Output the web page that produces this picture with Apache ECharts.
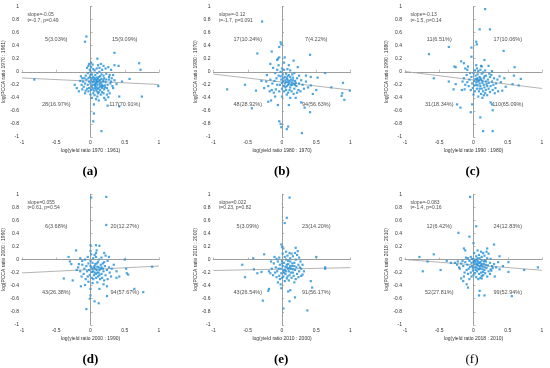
<!DOCTYPE html>
<html><head><meta charset="utf-8">
<script src="https://cdn.jsdelivr.net/npm/echarts@6/dist/echarts.min.js"></script>
<style>html,body{margin:0;padding:0;background:#fff}#c{width:550px;height:368px}</style>
</head><body><div id="c"></div>
<script>
// ---------- data ----------
const xTicks = [-1, -0.5, 0, 0.5, 1];
const yTicks = [-1, -0.8, -0.6, -0.4, -0.2, 0, 0.2, 0.4, 0.6, 0.8, 1];
const panelLetters = ['(a)', '(b)', '(c)', '(d)', '(e)', '(f)'];
const xNames = ['log(yield ratio 1970 : 1961)', 'log(yield ratio 1980 : 1970)', 'log(yield ratio 1990 : 1980)',
                'log(yield ratio 2000 : 1990)', 'log(yield ratio 2010 : 2000)', 'log(yield ratio 2018 : 2010)'];
const yNames = ['log(PCCA ratio 1970 : 1961)', 'log(PCCA ratio 1980 : 1970)', 'log(PCCA ratio 1990 : 1980)',
                'log(PCCA ratio 2000 : 1990)', 'log(PCCA ratio 2010 : 2000)', 'log(PCCA ratio 2018 : 2010)'];
const slopeText = ['slope=-0.05', 'slope=-0.12', 'slope=-0.13', 'slope=0.055', 'slope=0.022', 'slope=-0.083'];
const statText = ['t=-0.7, p=0.49', 't=-1.7, p=0.091', 't=-1.5, p=0.14', 't=0.61, p=0.54', 't=0.23, p=0.82', 't=-1.4, p=0.16'];
// quadrant counts: [upper-left, upper-right, lower-left, lower-right]
const quadText = [
  ['5(3.03%)', '15(9.09%)', '28(16.97%)', '117(70.91%)'],
  ['17(10.24%)', '7(4.22%)', '48(28.92%)', '94(56.63%)'],
  ['11(6.51%)', '17(10.06%)', '31(18.34%)', '110(65.09%)'],
  ['6(3.68%)', '20(12.27%)', '43(26.38%)', '94(57.67%)'],
  ['5(3.09%)', '23(14.20%)', '43(26.54%)', '91(56.17%)'],
  ['12(6.42%)', '24(12.83%)', '52(27.81%)', '99(52.94%)']
];
// fitted line values at x=-1 and x=1
const fitLeft  = [-0.095, -0.036, 0.004, -0.205, -0.168, 0.0];
const fitRight = [-0.195, -0.280, -0.256, -0.100, -0.124, -0.164];

const ptsA = [[-0.82,-0.12],[-0.06,0.54],[-0.08,0.46],[0.35,0.29],[0.1,0.2],[0.71,0.13],[0.73,0.03],[0.99,-0.22],[0.75,-0.38],[0.42,-0.38],[0.42,-0.53],[0.16,-0.91],[0.04,-0.76],[0.05,-0.64],[0.05,-0.5],[0.25,-0.52],[0.57,-0.11],[0.41,0.09],[0.35,0.1],[-0.23,-0.2],[-0.17,-0.3],[0.19,0.09],[0.26,0.07],[-0.03,0.09],[0.01,0.14],[0.03,0.11],[0.3,0.03],[0.38,-0.19],[0.33,-0.25],[0.28,-0.33],[0.2,-0.4],[-0.12,-0.1],[-0.14,-0.07],[-0.1,-0.23],[0.46,-0.15],
[0.0,-0.05],[0.02,-0.1],[0.05,-0.15],[0.08,-0.12],[0.1,-0.2],[0.12,-0.08],[0.15,-0.17],[0.18,-0.22],[0.2,-0.1],[0.22,-0.16],[0.25,-0.2],[0.27,-0.12],[0.03,-0.2],[0.06,-0.25],[0.09,-0.3],[0.11,-0.26],[0.14,-0.28],[0.17,-0.31],[0.2,-0.27],[-0.02,-0.15],[-0.04,-0.2],[-0.06,-0.12],[-0.08,-0.18],[-0.05,-0.26],[-0.03,-0.3],[0.01,-0.28],[0.04,-0.33],[0.07,-0.05],[0.1,-0.02],[0.13,0.0],[0.16,-0.04],[0.19,-0.06],[0.23,-0.03],[0.06,0.02],[-0.01,0.03],[-0.04,-0.02],[-0.07,-0.06],[0.08,-0.17],[0.12,-0.14],[0.14,-0.21],[0.16,-0.11],[0.04,-0.08],[0.07,-0.22],[0.09,-0.09],[0.11,-0.33],[0.13,-0.24],[0.02,-0.23],[0.0,-0.18],[-0.02,-0.25],[0.05,-0.12],[0.18,-0.15],[0.21,-0.21],[0.24,-0.25],[0.26,-0.29],[0.29,-0.18],[0.31,-0.1],[0.32,-0.22],[0.28,-0.05],[0.15,-0.35],[0.1,-0.38],[0.06,-0.36],[0.0,-0.35],[-0.03,-0.1],[-0.09,-0.1],[-0.11,-0.15],[-0.13,-0.2],[-0.07,-0.29],[0.01,-0.13],[0.03,-0.16],[0.07,-0.19],[0.09,-0.14],[0.11,-0.11],[0.13,-0.18],[0.17,-0.2],[0.19,-0.13],[0.21,-0.24],[0.23,-0.12],[0.14,-0.07],[0.17,-0.25],[0.05,-0.29],[0.08,-0.27],[0.12,-0.31],[-0.01,-0.08],[0.02,-0.04],[0.04,0.04],[0.09,0.05],[0.13,0.06],[0.17,0.03],[0.22,0.05],[-0.05,0.06],[0.0,0.0],[0.06,-0.1],[0.1,-0.16],[0.14,-0.13],[0.16,-0.23],[0.03,-0.26],[0.06,-0.2],[0.09,-0.24],[0.19,-0.33],[0.24,-0.35],[0.27,-0.08],[0.3,-0.15],[0.35,-0.13],[0.33,-0.05],[-0.15,-0.14],[-0.2,-0.25],[-0.12,-0.27],[-0.08,-0.33],[0.02,-0.4],[0.08,-0.42],[0.22,-0.43],[0.26,-0.39],[0.12,-0.44],[0.01,0.07],[0.11,0.1],[0.15,0.12],[-0.02,0.12]];

const ptsB = [[-0.29,0.77],[-0.02,0.45],[-0.04,0.38],[-0.01,0.42],[-0.36,0.28],[-0.15,0.31],[0.41,0.26],[-0.04,0.22],[-0.06,0.2],[0.04,0.22],[0.17,0.17],[-0.17,0.12],[0.23,0.07],[0.63,-0.02],[0.52,-0.09],[0.42,-0.08],[0.35,-0.06],[0.89,-0.17],[0.72,-0.24],[0.99,-0.29],[0.88,-0.33],[0.87,-0.37],[0.91,-0.43],[0.5,-0.28],[0.42,-0.21],[0.45,-0.34],[-0.8,-0.27],[-0.54,-0.2],[-0.38,-0.29],[-0.2,-0.46],[-0.16,-0.44],[-0.44,-0.56],[-0.06,-0.51],[0.1,-0.51],[0.28,-0.47],[0.33,-0.55],[0.41,-0.62],[-0.04,-0.76],[-0.02,-0.8],[-0.01,-0.85],[0.09,-0.84],[0.07,-0.88],[0.29,-0.94],
[-0.02,0.0],[0.01,-0.04],[0.04,-0.08],[0.07,-0.1],[0.1,-0.05],[0.13,-0.12],[0.16,-0.09],[0.19,-0.14],[0.22,-0.1],[0.25,-0.18],[0.28,-0.13],[-0.05,-0.06],[-0.08,-0.1],[-0.11,-0.14],[-0.14,-0.18],[-0.17,-0.12],[-0.2,-0.22],[-0.23,-0.15],[-0.26,-0.25],[-0.03,-0.2],[0.0,-0.17],[0.03,-0.22],[0.06,-0.16],[0.09,-0.2],[0.12,-0.24],[0.15,-0.2],[0.18,-0.26],[0.21,-0.22],[0.24,-0.28],[0.06,-0.28],[0.09,-0.32],[0.03,-0.3],[0.0,-0.26],[-0.04,-0.3],[-0.09,-0.27],[-0.12,-0.32],[-0.15,-0.28],[0.11,-0.14],[0.08,-0.12],[0.05,-0.13],[0.02,-0.1],[0.14,-0.16],[0.17,-0.18],[0.2,-0.17],[0.1,-0.18],[0.07,-0.22],[0.04,-0.18],[-0.01,-0.12],[0.12,-0.08],[0.15,-0.04],[0.18,-0.02],[0.06,-0.03],[-0.07,0.03],[-0.1,-0.02],[0.0,0.05],[0.03,0.03],[0.08,0.04],[0.12,0.02],[-0.13,0.06],[0.25,-0.06],[0.3,-0.2],[0.32,-0.26],[0.27,-0.3],[0.14,-0.3],[0.17,-0.34],[0.11,-0.28],[0.07,-0.35],[-0.07,-0.2],[-0.18,-0.3],[-0.22,-0.05],[-0.3,-0.14],[0.02,-0.14],[0.09,-0.15],[0.13,-0.2],[0.16,-0.13],[0.19,-0.2],[0.05,-0.24],[0.22,-0.32],[0.1,0.1],[-0.05,0.1],[0.08,-0.07],[-0.02,-0.07],[0.35,-0.15],[0.38,-0.24],[0.2,-0.4],[0.0,-0.38],[-0.1,-0.38],[0.12,-0.4],[-0.07,0.18],[0.03,0.14]];

const ptsC = [[0.17,0.96],[0.09,0.65],[0.24,0.65],[0.04,0.46],[0.05,0.42],[-0.03,0.37],[-0.36,0.38],[-0.65,0.27],[0.44,0.32],[-0.03,0.23],[-0.18,0.16],[-0.14,0.13],[-0.28,0.08],[-0.26,0.07],[-0.12,0.05],[-0.09,0.03],[0.11,0.09],[0.22,0.09],[0.16,0.18],[0.6,0.07],[0.59,-0.06],[0.69,-0.11],[0.57,-0.19],[0.66,-0.21],[-0.58,-0.1],[-0.36,-0.15],[-0.26,-0.19],[-0.29,-0.27],[-0.17,-0.28],[-0.13,-0.27],[-0.19,-0.55],[-0.24,-0.5],[-0.02,-0.5],[-0.04,-0.62],[0.1,-0.7],[0.27,-0.5],[0.28,-0.59],[0.25,-0.47],[0.14,-0.91],[0.28,-0.91],[0.42,-0.29],[0.47,-0.23],
[0.0,-0.02],[0.03,-0.06],[0.06,-0.04],[0.09,-0.08],[0.12,-0.03],[0.15,-0.1],[0.18,-0.06],[0.21,-0.12],[0.24,-0.08],[0.27,-0.15],[0.3,-0.1],[0.33,-0.18],[-0.03,-0.08],[-0.06,-0.12],[-0.09,-0.16],[-0.12,-0.2],[-0.02,-0.18],[0.01,-0.14],[0.04,-0.2],[0.07,-0.15],[0.1,-0.22],[0.13,-0.17],[0.16,-0.24],[0.19,-0.19],[0.22,-0.26],[0.25,-0.22],[0.28,-0.28],[0.05,-0.26],[0.08,-0.3],[0.11,-0.34],[0.02,-0.3],[-0.01,-0.25],[-0.04,-0.28],[0.14,-0.3],[0.17,-0.33],[0.2,-0.36],[0.06,-0.1],[0.08,-0.13],[0.11,-0.12],[0.03,-0.11],[0.13,-0.14],[0.09,-0.18],[0.06,-0.21],[0.12,-0.26],[0.15,-0.2],[0.18,-0.15],[0.04,-0.16],[-0.05,-0.02],[0.02,0.02],[0.07,0.01],[0.1,0.03],[0.14,-0.01],[0.17,0.02],[0.05,0.05],[-0.07,-0.22],[0.23,-0.03],[0.26,-0.05],[0.29,-0.2],[0.32,-0.25],[0.35,-0.12],[0.38,-0.07],[0.36,-0.3],[0.31,-0.33],[0.24,-0.31],[0.0,-0.35],[0.07,-0.38],[0.13,-0.4],[-0.1,-0.05],[-0.14,-0.1],[0.1,-0.1],[0.16,-0.07],[0.2,-0.22],[0.22,-0.17],[0.05,-0.12],[0.01,-0.21],[0.09,-0.26],[0.27,0.01],[0.4,-0.16],[0.45,-0.1],[-0.08,0.08],[0.12,0.08],[0.04,0.1],[-0.16,-0.15],[0.18,-0.28],[0.15,-0.36]];

const ptsD = [[0.01,0.95],[0.23,0.96],[0.23,0.53],[-0.21,0.14],[-0.32,0.04],[-0.3,-0.03],[-0.28,-0.07],[-0.39,-0.29],[-0.26,-0.32],[0.0,0.22],[0.08,0.22],[0.13,0.21],[0.08,0.1],[0.2,0.1],[0.5,0.0],[0.52,-0.14],[0.53,-0.21],[0.55,-0.23],[0.9,-0.11],[0.77,-0.5],[0.64,-0.45],[0.24,-0.56],[0.24,-0.41],[0.13,-0.45],[0.12,-0.67],[0.06,-0.64],[-0.01,-0.6],[0.0,-0.55],[-0.06,-0.76],[0.38,-0.28],[0.42,-0.26],[-0.14,-0.41],
[0.0,-0.02],[0.03,-0.05],[0.06,-0.1],[0.09,-0.06],[0.12,-0.12],[0.15,-0.08],[0.18,-0.14],[0.21,-0.1],[0.24,-0.16],[0.27,-0.12],[-0.03,-0.06],[-0.06,-0.1],[-0.09,-0.14],[-0.12,-0.08],[-0.15,-0.18],[-0.18,-0.12],[-0.02,-0.16],[0.01,-0.12],[0.04,-0.18],[0.07,-0.14],[0.1,-0.2],[0.13,-0.16],[0.16,-0.22],[0.19,-0.18],[0.22,-0.24],[0.05,-0.24],[0.08,-0.28],[0.11,-0.26],[0.02,-0.28],[-0.01,-0.24],[-0.04,-0.26],[-0.07,-0.3],[0.14,-0.3],[0.17,-0.28],[0.2,-0.32],[0.06,-0.2],[0.09,-0.16],[0.03,-0.14],[0.12,-0.2],[0.15,-0.14],[0.0,-0.1],[-0.05,-0.18],[-0.1,-0.22],[-0.13,-0.26],[0.04,0.02],[0.08,0.04],[0.12,0.0],[0.16,0.03],[-0.04,0.04],[-0.08,0.0],[0.2,-0.04],[0.25,-0.02],[0.28,-0.2],[0.31,-0.14],[0.34,-0.08],[0.3,-0.26],[0.25,-0.3],[0.1,-0.35],[0.03,-0.36],[-0.03,-0.34],[0.07,-0.07],[0.1,-0.11],[0.05,-0.12],[0.02,-0.19],[0.08,-0.22],[0.18,-0.06],[0.22,0.06],[0.01,0.08],[-0.12,-0.02],[-0.17,-0.07],[-0.2,-0.16],[0.13,-0.24],[0.16,-0.12],[0.11,-0.04],[0.06,0.07],[0.27,0.04],[-0.15,0.02],[0.38,-0.18],[0.04,-0.3],[0.19,-0.38],[0.0,-0.45],[-0.08,-0.39],[0.09,0.14],[0.0,0.13]];

const ptsE = [[0.11,0.95],[0.07,0.64],[0.04,0.56],[-0.26,0.08],[-0.42,0.02],[-0.58,-0.08],[-0.54,-0.27],[-0.41,-0.15],[-0.36,-0.21],[-0.3,-0.19],[-0.19,-0.18],[-0.17,-0.21],[-0.2,-0.48],[-0.19,-0.45],[-0.28,-0.63],[-0.01,0.23],[0.0,0.19],[0.02,0.17],[0.2,0.18],[0.23,0.13],[0.5,0.04],[0.63,-0.12],[0.63,-0.14],[0.42,-0.33],[0.44,-0.43],[0.37,-0.78],[0.19,-0.58],[0.09,-0.49],[0.12,-0.47],[0.11,-0.64],[0.02,-0.75],[-0.01,-0.44],[-0.02,-0.38],[0.3,-0.23],
[0.0,-0.02],[0.03,-0.05],[0.06,0.0],[0.09,-0.07],[0.12,-0.03],[0.15,-0.1],[0.18,-0.05],[0.21,-0.12],[0.24,-0.08],[0.27,-0.03],[-0.03,-0.08],[-0.06,-0.03],[-0.09,-0.12],[-0.12,-0.06],[-0.15,-0.14],[-0.02,-0.14],[0.01,-0.1],[0.04,-0.16],[0.07,-0.12],[0.1,-0.18],[0.13,-0.14],[0.16,-0.2],[0.19,-0.16],[0.22,-0.22],[0.25,-0.18],[0.05,-0.22],[0.08,-0.26],[0.11,-0.24],[0.02,-0.26],[-0.01,-0.21],[-0.04,-0.25],[-0.07,-0.18],[0.14,-0.28],[0.17,-0.25],[0.2,-0.3],[0.06,-0.18],[0.09,-0.14],[0.03,-0.2],[0.12,-0.1],[0.15,-0.06],[0.0,-0.06],[-0.05,-0.14],[-0.1,-0.2],[-0.13,-0.24],[0.04,0.04],[0.08,0.06],[0.12,0.02],[0.16,0.05],[-0.04,0.03],[-0.08,0.01],[0.2,0.0],[0.25,0.03],[0.28,-0.14],[0.3,-0.08],[0.32,-0.18],[0.28,-0.25],[0.1,-0.32],[0.04,-0.33],[-0.03,-0.3],[0.07,-0.08],[0.11,-0.13],[0.05,-0.11],[0.02,-0.17],[0.13,-0.2],[0.18,-0.1],[0.22,0.07],[0.01,0.09],[-0.11,0.04],[0.16,-0.15],[0.11,0.1],[0.06,0.12],[-0.16,-0.03],[0.24,-0.27],[0.18,-0.35],[0.0,-0.28],[0.07,-0.29],[0.09,-0.02],[0.14,0.09],[-0.06,-0.35],[0.19,0.1],[0.26,-0.12],[-0.08,-0.27]];

const ptsF = [[-0.05,0.96],[0.04,0.51],[-0.22,0.41],[-0.06,0.35],[0.0,0.25],[-0.14,0.17],[-0.12,0.14],[0.3,0.23],[0.2,0.17],[-0.79,0.04],[-0.58,0.08],[-0.74,-0.18],[-0.67,-0.03],[-0.48,-0.16],[-0.39,-0.02],[-0.33,-0.05],[0.38,0.05],[0.51,-0.04],[0.43,-0.1],[0.51,-0.19],[0.74,-0.16],[0.94,-0.12],[0.56,-0.56],[0.09,-0.48],[0.16,-0.55],[0.08,-0.55],[-0.1,-0.38],[-0.08,-0.43],[-0.18,-0.29],[-0.15,-0.33],[0.12,-0.29],[0.31,-0.26],
[0.0,0.0],[0.03,-0.03],[0.06,0.02],[0.09,-0.05],[0.12,-0.01],[0.15,-0.07],[0.18,-0.03],[0.21,-0.09],[0.24,-0.05],[0.27,-0.1],[-0.03,-0.05],[-0.06,-0.02],[-0.09,-0.08],[-0.12,-0.04],[-0.15,-0.1],[-0.18,-0.06],[-0.21,-0.12],[-0.24,-0.08],[-0.27,-0.05],[-0.02,-0.1],[0.01,-0.07],[0.04,-0.12],[0.07,-0.09],[0.1,-0.14],[0.13,-0.11],[0.16,-0.16],[0.19,-0.13],[0.22,-0.18],[0.25,-0.15],[0.05,-0.18],[0.08,-0.22],[0.11,-0.2],[0.02,-0.21],[-0.01,-0.17],[-0.04,-0.2],[-0.07,-0.14],[0.14,-0.24],[0.17,-0.21],[0.2,-0.26],[0.06,-0.14],[0.09,-0.11],[0.03,-0.16],[0.12,-0.07],[0.15,-0.03],[0.0,-0.04],[-0.05,-0.11],[-0.1,-0.16],[-0.13,-0.2],[0.04,0.05],[0.08,0.07],[0.12,0.04],[0.16,0.06],[-0.04,0.04],[-0.08,0.02],[0.2,0.02],[0.25,0.01],[0.28,-0.13],[0.3,-0.07],[0.33,-0.12],[0.36,-0.04],[0.38,-0.15],[0.1,-0.28],[0.04,-0.27],[-0.03,-0.26],[0.07,-0.05],[0.11,-0.09],[0.05,-0.08],[0.02,-0.12],[0.13,-0.15],[0.18,-0.08],[0.22,0.09],[0.01,0.1],[-0.11,0.03],[0.16,-0.12],[0.11,0.12],[0.06,0.14],[-0.16,-0.02],[0.24,-0.22],[0.0,-0.24],[0.07,-0.3],[0.09,0.02],[0.14,0.1],[-0.06,-0.3],[0.19,0.12],[0.26,-0.17],[-0.08,-0.22],[-0.2,-0.14],[-0.23,-0.03],[0.03,0.0],[0.06,-0.02],[0.1,-0.04],[-0.02,0.01],[0.01,-0.02],[0.04,-0.06],[0.08,-0.15],[-0.01,-0.13],[0.14,-0.19],[0.17,-0.01],[0.12,-0.25],[-0.14,-0.26]];

const allPts = [ptsA, ptsB, ptsC, ptsD, ptsE, ptsF];

// ---------- layout ----------
const gridLefts = [22, 213.5, 405];
const gridTops = [6.5, 194.3];
const gridW = 137, gridH = 130.5;
const FONT = 'Liberation Sans, Arial, sans-serif';
const PT_COLOR = '#1f8fd6';

const grids = [], xAxes = [], yAxes = [], series = [], graphics = [];
for (let i = 0; i < 6; i++) {
  const col = i % 3, row = Math.floor(i / 3);
  grids.push({left: gridLefts[col], top: gridTops[row], width: gridW, height: gridH, containLabel: false});
  const axLine = {show: true, lineStyle: {color: '#8a8a8a', width: 0.8}};
  xAxes.push({
    gridIndex: i, type: 'value', min: -1, max: 1, interval: 0.5,
    name: xNames[i], nameLocation: 'middle', nameGap: 11,
    nameTextStyle: {fontSize: 5, color: '#333', fontFamily: FONT},
    axisLine: axLine, axisTick: {show: true, inside: true, length: 2, lineStyle: {color: '#8a8a8a', width: 0.6}},
    axisLabel: {fontSize: 5, color: '#333', margin: 3, fontFamily: FONT,
      formatter: v => xTicks.includes(+v.toFixed(2)) ? String(+v.toFixed(2)) : ''},
    splitLine: {show: false}
  });
  yAxes.push({
    gridIndex: i, type: 'value', min: -1, max: 1, interval: 0.2,
    name: yNames[i], nameLocation: 'middle', nameGap: 12, nameRotate: 90,
    nameTextStyle: {fontSize: 5, color: '#333', fontFamily: FONT},
    axisLine: axLine, axisTick: {show: true, inside: true, length: 2, lineStyle: {color: '#8a8a8a', width: 0.6}},
    axisLabel: {fontSize: 5, color: '#333', margin: 3, fontFamily: FONT,
      formatter: v => yTicks.includes(+v.toFixed(2)) ? String(+v.toFixed(2)) : ''},
    splitLine: {show: false}
  });
  // fit line
  series.push({
    type: 'line', xAxisIndex: i, yAxisIndex: i, silent: true, symbol: 'none',
    data: [[-1, fitLeft[i]], [1, fitRight[i]]],
    lineStyle: {color: '#b4b4b4', width: 1}, z: 2
  });
  // points
  series.push({
    type: 'scatter', xAxisIndex: i, yAxisIndex: i, symbol: 'rect', symbolSize: 2.2,
    data: allPts[i], itemStyle: {color: PT_COLOR}, z: 3,
    markLine: {
      silent: true, symbol: 'none', label: {show: false},
      lineStyle: {type: [2, 2], color: '#9a9a9a', width: 0.7},
      data: [{xAxis: 0}, {yAxis: 0}]
    }
  });
  // text annotations
  series.push({
    type: 'scatter', xAxisIndex: i, yAxisIndex: i, symbolSize: 0, silent: true, z: 4,
    data: [{name: slopeText[i], value: [-0.92, 0.88]}, {name: statText[i], value: [-0.92, 0.79]}],
    label: {show: true, position: 'right', distance: 0, formatter: '{b}', fontSize: 5, color: '#222', fontFamily: FONT}
  });
  series.push({
    type: 'scatter', xAxisIndex: i, yAxisIndex: i, symbolSize: 0, silent: true, z: 4,
    data: [{name: quadText[i][0], value: [-0.5, 0.5]}, {name: quadText[i][1], value: [0.5, 0.5]},
           {name: quadText[i][2], value: [-0.5, -0.5]}, {name: quadText[i][3], value: [0.5, -0.5]}],
    label: {show: true, position: 'inside', formatter: '{b}', fontSize: 5.5, color: '#222', fontFamily: FONT}
  });
  graphics.push({
    type: 'text', left: gridLefts[col] + gridW / 2 - 8, top: gridTops[row] + gridH + 28,
    style: {text: panelLetters[i], fontSize: 13, fontFamily: 'Liberation Serif, Times New Roman, serif',
      fontWeight: i < 5 ? 'bold' : 'normal', fill: '#000'}
  });
}

const chart = echarts.init(document.getElementById('c'), null, {renderer: 'canvas'});
chart.setOption({
  animation: false, backgroundColor: '#fff',
  grid: grids, xAxis: xAxes, yAxis: yAxes, series: series, graphic: graphics
});
</script></body></html>
